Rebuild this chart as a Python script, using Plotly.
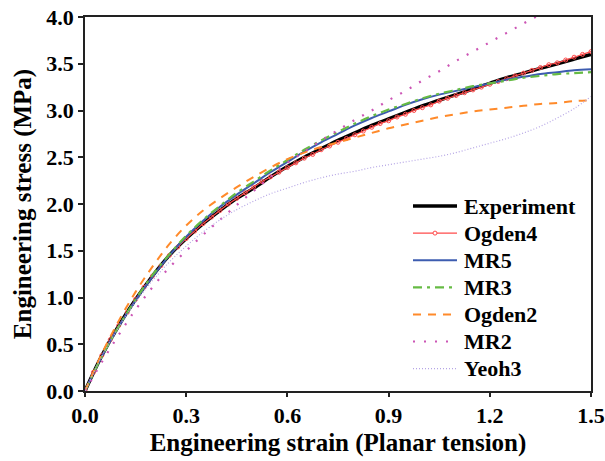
import plotly.graph_objects as go

# ---- data ----
strain = [0.00, 0.05, 0.10, 0.15, 0.20, 0.25, 0.30, 0.35, 0.40, 0.45, 0.50,
          0.55, 0.60, 0.65, 0.70, 0.75, 0.80, 0.85, 0.90, 0.95, 1.00,
          1.05, 1.10, 1.15, 1.20, 1.25, 1.30, 1.35, 1.40, 1.45, 1.50]

experiment = [0, 0.38, 0.70, 0.98, 1.23, 1.45, 1.63, 1.79, 1.93, 2.06, 2.17,
              2.29, 2.40, 2.50, 2.59, 2.68, 2.76, 2.84, 2.91, 2.98, 3.05,
              3.11, 3.17, 3.23, 3.29, 3.35, 3.40, 3.45, 3.50, 3.55, 3.60]

mr5 = [0, 0.37, 0.69, 0.97, 1.22, 1.45, 1.65, 1.82, 1.97, 2.10, 2.22,
       2.34, 2.45, 2.56, 2.66, 2.75, 2.84, 2.92, 2.99, 3.06, 3.12,
       3.17, 3.21, 3.25, 3.29, 3.33, 3.36, 3.39, 3.41, 3.43, 3.44]

mr3 = [0, 0.37, 0.69, 0.98, 1.24, 1.46, 1.66, 1.83, 1.98, 2.12, 2.24,
       2.36, 2.47, 2.58, 2.68, 2.77, 2.86, 2.94, 3.01, 3.07, 3.13,
       3.18, 3.22, 3.26, 3.29, 3.32, 3.35, 3.37, 3.39, 3.40, 3.41]

ogden2 = [0, 0.40, 0.75, 1.06, 1.33, 1.57, 1.77, 1.93, 2.06, 2.18, 2.29,
          2.39, 2.48, 2.55, 2.61, 2.66, 2.71, 2.76, 2.81, 2.85, 2.89,
          2.93, 2.96, 2.99, 3.01, 3.03, 3.05, 3.07, 3.08, 3.10, 3.11]

mr2 = [0, 0.31, 0.60, 0.87, 1.11, 1.32, 1.50, 1.67, 1.83, 1.99, 2.14,
       2.29, 2.44, 2.56, 2.68, 2.79, 2.90, 3.00, 3.11, 3.21, 3.32,
       3.42, 3.53, 3.63, 3.73, 3.83, 3.93, 4.03, 4.13, 4.23, 4.33]

yeoh3 = [0, 0.37, 0.68, 0.95, 1.18, 1.38, 1.55, 1.70, 1.83, 1.94, 2.03,
         2.11, 2.17, 2.23, 2.28, 2.32, 2.35, 2.39, 2.42, 2.45, 2.48,
         2.51, 2.55, 2.60, 2.65, 2.70, 2.76, 2.83, 2.92, 3.02, 3.15]

ogden4_strain = [0.000, 0.025, 0.050, 0.075, 0.100, 0.125, 0.150, 0.175, 0.200, 0.225,
                 0.250, 0.275, 0.300, 0.325, 0.350, 0.375, 0.400, 0.425, 0.450, 0.475,
                 0.500, 0.525, 0.550, 0.575, 0.600, 0.625, 0.650, 0.675, 0.700, 0.725,
                 0.750, 0.775, 0.800, 0.825, 0.850, 0.875, 0.900, 0.925, 0.950, 0.975,
                 1.000, 1.025, 1.050, 1.075, 1.100, 1.125, 1.150, 1.175, 1.200, 1.225,
                 1.250, 1.275, 1.300, 1.325, 1.350, 1.375, 1.400, 1.425, 1.450, 1.475,
                 1.500]
ogden4 = [0, 0.20, 0.38, 0.55, 0.70, 0.84, 0.98, 1.11, 1.23, 1.34,
          1.45, 1.54, 1.63, 1.71, 1.79, 1.86, 1.93, 2.00, 2.06, 2.12,
          2.18, 2.24, 2.29, 2.34, 2.39, 2.44, 2.49, 2.53, 2.58, 2.62,
          2.66, 2.70, 2.74, 2.78, 2.82, 2.86, 2.89, 2.93, 2.96, 3.00,
          3.03, 3.06, 3.10, 3.13, 3.16, 3.19, 3.22, 3.25, 3.28, 3.31,
          3.34, 3.37, 3.40, 3.43, 3.46, 3.49, 3.51, 3.54, 3.57, 3.60,
          3.63]

x_ticks = [0.0, 0.3, 0.6, 0.9, 1.2, 1.5]
y_ticks = [0.0, 0.5, 1.0, 1.5, 2.0, 2.5, 3.0, 3.5, 4.0]

series_names = ["Experiment", "Ogden4", "MR5", "MR3", "Ogden2", "MR2", "Yeoh3"]

FONT = "Liberation Serif"
W, H = 605, 461
ML, MR, MT, MB = 85, 14, 17, 70
PW, PH = W - ML - MR, H - MT - MB

styles = {
    "Experiment": dict(color="black", width=3.5, dash="solid"),
    "Ogden4": dict(color="#ff4b4b", width=1.2, dash="solid"),
    "MR5": dict(color="#3d5cb0", width=2, dash="solid"),
    "MR3": dict(color="#66bb44", width=2.2, dash="9px,5px,3px,5px"),
    "Ogden2": dict(color="#ff8a2a", width=2, dash="8px,7px"),
    "MR2": dict(color="#cc55b5", width=2.2, dash="2px,9px"),
    "Yeoh3": dict(color="#b5a5e5", width=1.2, dash="1px,2px"),
}
xs = {"Experiment": strain, "Ogden4": ogden4_strain, "MR5": strain, "MR3": strain,
      "Ogden2": strain, "MR2": strain, "Yeoh3": strain}
ys = {"Experiment": experiment, "Ogden4": ogden4, "MR5": mr5, "MR3": mr3,
      "Ogden2": ogden2, "MR2": mr2, "Yeoh3": yeoh3}

fig = go.Figure()
for name in series_names:
    st = styles[name]
    kw = dict(x=xs[name], y=ys[name], name=name, showlegend=False,
              line=dict(color=st["color"], width=st["width"], dash=st["dash"], shape="spline"))
    if name == "Ogden4":
        kw["mode"] = "lines+markers"
        kw["marker"] = dict(symbol="circle-open", size=4, color=st["color"],
                            line=dict(width=1, color=st["color"]))
    else:
        kw["mode"] = "lines"
    fig.add_trace(go.Scatter(**kw))

# ---- manual legend (pixel layout converted to paper coords) ----
def px_x(px):
    return (px - ML) / PW

def px_y(py):
    return (H - MB - py) / PH

leg_y0, leg_dy = 206, 27.1
shapes, annotations = [], []
for i, name in enumerate(series_names):
    st = styles[name]
    yy = px_y(leg_y0 + i * leg_dy)
    shapes.append(dict(type="line", xref="paper", yref="paper",
                       x0=px_x(413), x1=px_x(457), y0=yy, y1=yy,
                       line=dict(color=st["color"], width=st["width"], dash=st["dash"])))
    if name == "Ogden4":
        shapes.append(dict(type="circle", xref="paper", yref="paper",
                           xsizemode="pixel", ysizemode="pixel",
                           xanchor=px_x(435), yanchor=yy,
                           x0=-2, x1=2, y0=-2, y1=2,
                           fillcolor="white", line=dict(color=st["color"], width=1)))
    annotations.append(dict(text=name, xref="paper", yref="paper",
                            x=px_x(462), y=yy, xanchor="left", yanchor="middle",
                            showarrow=False,
                            font=dict(family=FONT, size=22, color="black", weight="bold")))

axis_common = dict(
    showline=True, linecolor="#222", linewidth=1.5, mirror=True,
    ticks="outside", tickcolor="#222", tickwidth=1.5,
    showgrid=False, zeroline=False, automargin=False,
    tickfont=dict(family=FONT, size=22, color="black", weight="bold"),
)

fig.update_xaxes(range=[0, 1.5], tickvals=x_ticks, ticktext=[f"{v:.1f}" for v in x_ticks],
                 ticklen=4,
                 title=dict(text="Engineering strain (Planar tension)", standoff=6,
                            font=dict(family=FONT, size=25, color="black", weight="bold")),
                 **axis_common)
fig.update_yaxes(range=[0, 4.0], tickvals=y_ticks, ticktext=[f"{v:.1f}" for v in y_ticks],
                 ticklen=5,
                 title=dict(text="Engineering stress (MPa)", standoff=8,
                            font=dict(family=FONT, size=25, color="black", weight="bold")),
                 **axis_common)

fig.update_layout(
    width=W, height=H,
    margin=dict(l=ML, r=MR, t=MT, b=MB, autoexpand=False),
    paper_bgcolor="white", plot_bgcolor="white",
    showlegend=False,
    shapes=shapes, annotations=annotations,
)

fig.write_html("out.html",
               config={"displayModeBar": False},
               post_script="document.body.style.margin='0';document.body.style.padding='0';")
